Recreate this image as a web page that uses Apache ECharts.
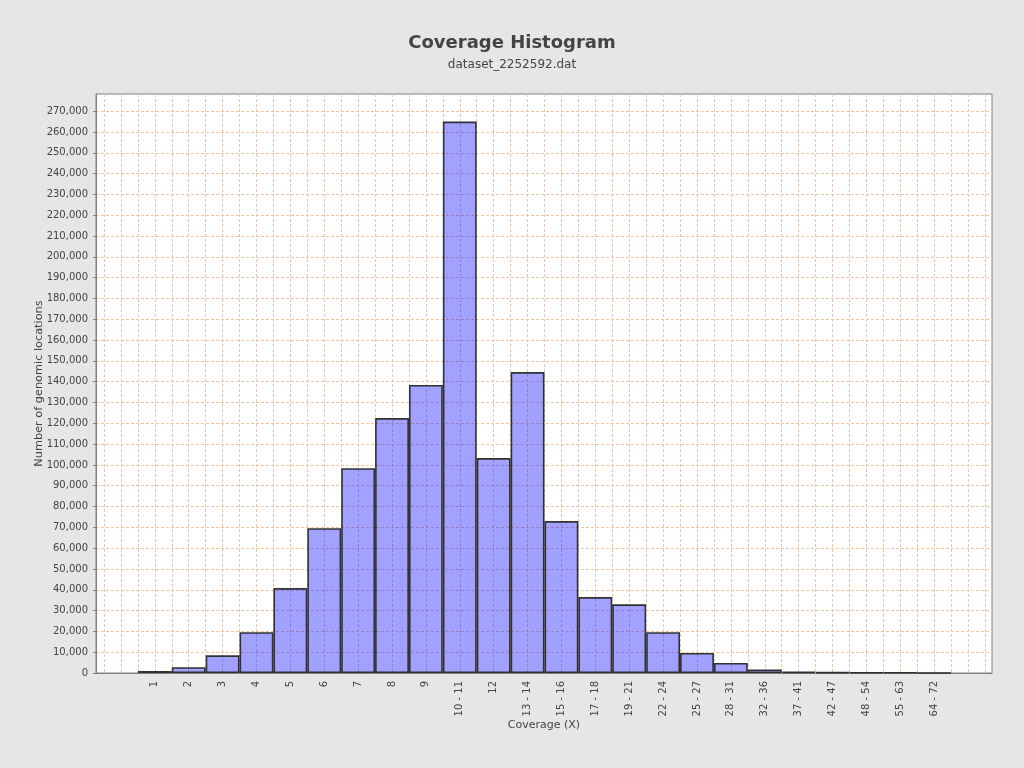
<!DOCTYPE html>
<html>
<head>
<meta charset="utf-8">
<script src="https://cdn.jsdelivr.net/npm/echarts@6/dist/echarts.min.js"></script>
<style>
html,body{margin:0;padding:0;background:#e6e6e6;}
#chart{width:1024px;height:768px;}
</style>
</head>
<body>
<div id="chart"></div>
<script>
var categories = ['', '1', '2', '3', '4', '5', '6', '7', '8', '9', '10 - 11', '12', '13 - 14', '15 - 16',
  '17 - 18', '19 - 21', '22 - 24', '25 - 27', '28 - 31', '32 - 36', '37 - 41', '42 - 47', '48 - 54',
  '55 - 63', '64 - 72', ''];
var counts = [null, 1000, 2800, 8500, 19600, 40800, 69600, 98400, 122500, 138400, 265000, 103300, 144600,
  73000, 36500, 33000, 19600, 9600, 4800, 1700, 600, 400, 300, 250, 60, null];
var yTicks = {min: 0, max: 278250, step: 10000};
var titleText = 'Coverage Histogram';
var subtitleText = 'dataset_2252592.dat';
var xTitle = 'Coverage (X)';
var yTitle = 'Number of genomic locations';

var FONT = 'DejaVu Sans';
var gridColor = '#f0c6a2';
var chart = echarts.init(document.getElementById('chart'), null, {renderer: 'canvas'});
chart.setOption({
  backgroundColor: '#e6e6e6',
  animation: false,
  title: {
    text: titleText,
    subtext: subtitleText,
    left: 'center',
    top: 29,
    itemGap: 7,
    textStyle: {fontFamily: FONT, fontSize: 18, fontWeight: 'bold', color: '#444'},
    subtextStyle: {fontFamily: FONT, fontSize: 12, color: '#444'}
  },
  grid: [
    {left: 96, right: 32, top: 94, bottom: 95, show: true, backgroundColor: '#ffffff',
     borderColor: '#808080', borderWidth: 1},
    {left: 104, right: 39, top: 94, bottom: 95}
  ],
  xAxis: [
    {gridIndex: 0, type: 'value', min: 0, max: 1, offset: 4,
     axisLine: {show: true, lineStyle: {color: '#808080', width: 1}},
     axisTick: {show: false}, axisLabel: {show: false}, splitLine: {show: false},
     name: xTitle, nameLocation: 'middle', nameGap: 43,
     nameTextStyle: {fontFamily: FONT, fontSize: 11, color: '#444'}},
    {gridIndex: 1, type: 'category', data: categories, boundaryGap: true,
     axisLine: {show: false}, axisTick: {show: false},
     axisLabel: {interval: 0, rotate: 90, margin: 8, fontFamily: FONT, fontSize: 10, color: '#444'},
     splitLine: {show: false}},
    {gridIndex: 1, type: 'value', min: 0, max: 52, interval: 1, show: true,
     axisLine: {show: false}, axisTick: {show: false}, axisLabel: {show: false},
     splitLine: {show: true, lineStyle: {color: gridColor, width: 1, type: [3, 2]}}}
  ],
  yAxis: [
    {gridIndex: 0, type: 'value', min: yTicks.min, max: yTicks.max, interval: yTicks.step, offset: 4,
     axisLine: {show: true, lineStyle: {color: '#808080', width: 1}},
     axisTick: {show: true, length: 3, lineStyle: {color: '#808080'}},
     axisLabel: {margin: 4, fontFamily: FONT, fontSize: 10, color: '#444', showMaxLabel: false,
       formatter: function (v) { return v > yTicks.max - 1 ? '' : v.toLocaleString('en-US'); }},
     splitLine: {show: true, showMaxLine: false, showMinLine: false,
       lineStyle: {color: gridColor, width: 1, type: [3, 2]}},
     name: yTitle, nameLocation: 'middle', nameGap: 47, nameMoveOverlap: false,
     nameTextStyle: {fontFamily: FONT, fontSize: 11.3, color: '#444'}},
    {gridIndex: 1, type: 'value', min: yTicks.min, max: yTicks.max, show: false,
     splitLine: {show: false}}
  ],
  series: [{
    type: 'bar',
    xAxisIndex: 1,
    yAxisIndex: 1,
    data: counts,
    barCategoryGap: '0%',
    itemStyle: {color: 'rgba(0,0,255,0.37)', borderColor: 'rgba(40,40,40,0.95)', borderWidth: 1.6}
  }]
});
</script>
</body>
</html>
